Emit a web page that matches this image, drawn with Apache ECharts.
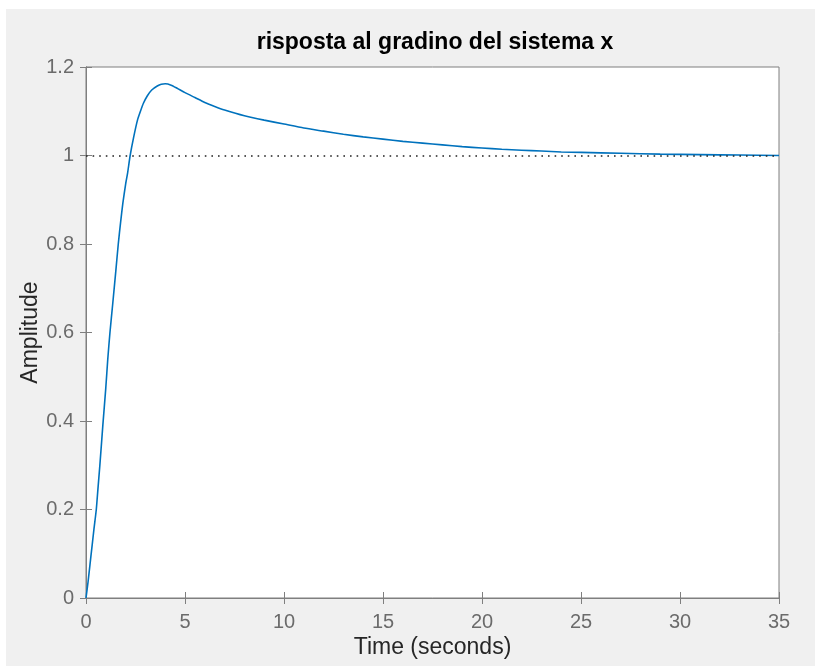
<!DOCTYPE html>
<html lang="it">
<head>
    <meta charset="UTF-8">
    <title>risposta al gradino</title>
    <script src="https://cdn.jsdelivr.net/npm/echarts@6/dist/echarts.min.js"></script>
    <style>
        body{
            margin:0;
            background:#fff;
        }
        #main{
            position:absolute;
            left:6px;
            top:9px;
            width:809px;
            height:657px;
        }
    </style>
</head>
<body>
    <div id="main"></div>
    <script>
        // tempi (s) e ampiezza
        var tempi = [0, 0.1, 0.2, 0.3, 0.4, 0.52, 0.6, 0.7, 0.85, 1.0, 1.1, 1.21, 1.35, 1.51, 1.63, 1.75, 1.86, 2.0, 2.1, 2.23,
            2.4, 2.6, 2.75, 2.9, 3.1, 3.32, 3.6, 3.8, 4.0, 4.3, 4.6, 5.0, 5.5, 6.0, 6.5, 7, 8, 9, 10, 11,
            12, 13, 14, 15, 16, 17, 18, 19, 20, 21, 22, 23, 24, 25, 27, 29, 31, 33, 35]
        var ampiezza = [0, 0.035, 0.075, 0.115, 0.155, 0.20, 0.245, 0.30, 0.39, 0.475, 0.54, 0.60, 0.665, 0.741, 0.80, 0.85, 0.892, 0.935, 0.96, 1.0,
            1.04, 1.08, 1.10, 1.118, 1.135, 1.148, 1.157, 1.161, 1.162, 1.159, 1.152, 1.142, 1.131, 1.120, 1.111, 1.103, 1.090, 1.080, 1.071, 1.062,
            1.055, 1.048, 1.042, 1.037, 1.032, 1.028, 1.024, 1.020, 1.017, 1.014, 1.012, 1.010, 1.008, 1.007, 1.005, 1.003, 1.002, 1.001, 1.000]
        var valoreFinale = 1

        var punti = tempi.map(function (t, i) { return [t, ampiezza[i]] })

        var coloreAssi = '#7f7f7f'
        var coloreTesto = '#6b6b6b'
        var font = 'Liberation Sans'

        var myChart = echarts.init(document.getElementById('main'))
        var option = {
            backgroundColor: '#f0f0f0',
            animation: false,
            title: {
                text: 'risposta al gradino del sistema x',
                left: 424,
                top: 17,
                textAlign: 'center',
                textStyle: {fontFamily: font, fontSize: 23, fontWeight: 'bold', color: '#000'}
            },
            grid: {
                left: 80, right: 36, top: 58, bottom: 68,
                show: true, backgroundColor: '#fff', borderColor: coloreAssi, borderWidth: 1
            },
            xAxis: [{
                type: 'value', min: 0, max: 35, interval: 5,
                name: 'Time (seconds)', nameLocation: 'middle', nameGap: 38, nameMoveOverlap: false,
                nameTextStyle: {fontFamily: font, fontSize: 23, color: '#262626'},
                axisLine: {lineStyle: {color: coloreAssi}},
                axisTick: {inside: true, length: 6, lineStyle: {color: coloreAssi}},
                axisLabel: {fontFamily: font, fontSize: 20, color: coloreTesto, margin: 14},
                splitLine: {show: false}
            }, {
                type: 'value', min: 0, max: 35, interval: 5, position: 'top',
                axisLine: {lineStyle: {color: coloreAssi}},
                axisTick: {inside: true, length: 6, lineStyle: {color: coloreAssi}},
                axisLabel: {show: false},
                splitLine: {show: false}
            }],
            yAxis: [{
                type: 'value', min: 0, max: 1.2, interval: 0.2,
                name: 'Amplitude', nameLocation: 'middle', nameGap: 44, nameMoveOverlap: false,
                nameTextStyle: {fontFamily: font, fontSize: 23, color: '#262626'},
                axisLine: {show: true, lineStyle: {color: coloreAssi}},
                axisTick: {show: true, inside: true, length: 6, lineStyle: {color: coloreAssi}},
                axisLabel: {fontFamily: font, fontSize: 20, color: coloreTesto, margin: 12,
                    formatter: function (v) { return String(Math.round(v * 10) / 10) }},
                splitLine: {show: false}
            }, {
                type: 'value', min: 0, max: 1.2, interval: 0.2, position: 'right',
                axisLine: {show: true, lineStyle: {color: coloreAssi}},
                axisTick: {show: true, inside: true, length: 6, lineStyle: {color: coloreAssi}},
                axisLabel: {show: false},
                splitLine: {show: false}
            }],
            series: [{
                type: 'line',
                data: punti,
                showSymbol: false,
                smooth: 0.2,
                lineStyle: {color: '#0072bd', width: 1.6},
                markLine: {
                    silent: true,
                    symbol: 'none',
                    label: {show: false},
                    lineStyle: {color: '#222', width: 1.6, type: [1.6, 5]},
                    data: [{yAxis: valoreFinale}]
                }
            }]
        }
        myChart.setOption(option)
    </script>
</body>
</html>
